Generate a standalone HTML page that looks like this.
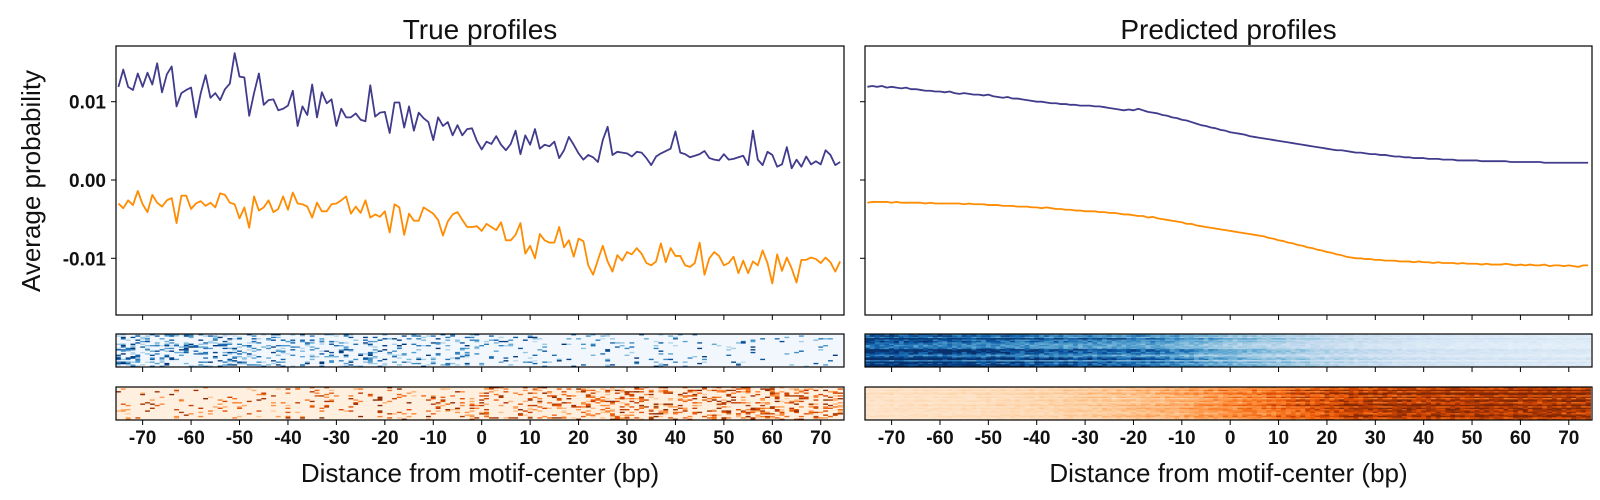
<!DOCTYPE html>
<html><head><meta charset="utf-8"><style>
html,body{margin:0;padding:0;background:#fff;}
svg{display:block;font-family:"Liberation Sans",sans-serif;}
</style></head><body>
<svg id="chart" width="1600" height="500" viewBox="0 0 1600 500"></svg>
<script>
// ---- data (units of 0.001 probability), positions -75..74 ----
const positions = []; for (let p = -75; p <= 74; p++) positions.push(p);
const xTicks = [-70,-60,-50,-40,-30,-20,-10,0,10,20,30,40,50,60,70];
const yTicks = [0.01, 0.00, -0.01];
const yTickLabels = ["0.01","0.00","-0.01"];
const trueBlue = [11.9,14.1,11.9,11.5,13.6,11.9,13.7,12.2,14.9,11.2,13.5,14.5,9.4,11.1,11.5,11.8,8.0,11.1,13.4,10.5,11.1,10.2,11.6,12.3,16.2,13.2,13.1,8.2,11.1,13.6,9.6,10.2,10.3,8.9,9.1,9.5,11.4,6.9,9.4,8.3,12.2,8.0,11.2,9.8,10.3,6.9,9.1,8.0,8.0,8.5,7.7,7.5,12.1,8.1,8.6,8.7,6.0,9.9,9.9,6.7,9.4,6.3,8.6,7.9,7.4,5.1,8.0,6.9,7.4,5.7,7.0,5.7,6.5,6.6,5.0,
3.9,4.9,4.6,5.6,4.5,3.8,4.6,6.3,3.3,5.7,4.5,6.5,4.0,4.5,4.3,4.9,2.8,3.8,5.5,4.5,3.4,2.6,3.2,2.9,2.3,5.1,6.8,3.2,3.6,3.5,3.4,3.0,3.6,3.5,2.8,1.9,3.0,3.4,3.7,4.0,6.2,3.5,3.3,2.9,3.1,3.3,3.7,2.8,2.6,2.5,3.3,2.6,2.7,2.9,3.1,1.9,6.3,2.6,1.9,3.6,3.2,1.7,2.0,4.2,1.5,2.6,1.7,3.0,2.0,2.4,2.0,3.8,3.2,1.9,2.3];
const trueOrange = [-3.0,-3.6,-2.6,-3.2,-1.4,-3.1,-4.1,-1.9,-2.9,-3.4,-2.6,-2.3,-5.5,-2.0,-2.0,-3.7,-3.0,-2.7,-3.3,-2.9,-3.5,-1.7,-1.9,-2.9,-3.1,-4.9,-3.5,-6.1,-2.1,-3.9,-3.5,-2.6,-4.1,-3.7,-2.1,-3.8,-1.6,-3.0,-3.1,-3.4,-4.8,-2.9,-4.0,-4.0,-3.1,-3.0,-2.6,-2.1,-4.3,-3.4,-4.2,-2.6,-4.8,-4.4,-4.7,-4.0,-6.7,-3.1,-3.5,-7.0,-4.3,-5.2,-5.2,-3.5,-3.9,-4.3,-5.1,-7.1,-5.3,-4.4,-4.1,-5.1,-6.0,-6.0,-5.9,
-6.5,-5.6,-6.0,-6.4,-5.4,-7.7,-7.7,-7.0,-5.5,-9.4,-8.4,-10.0,-6.9,-7.7,-8.0,-8.0,-6.0,-8.6,-7.7,-9.8,-7.5,-7.8,-10.9,-12.1,-10.2,-8.4,-10.4,-11.7,-9.6,-10.3,-9.2,-9.5,-8.7,-9.4,-10.6,-10.9,-10.4,-8.1,-10.5,-8.7,-9.7,-9.7,-10.9,-11.1,-10.6,-8.0,-12.1,-10.0,-9.2,-9.7,-10.9,-10.6,-9.8,-11.9,-10.3,-11.9,-10.4,-10.9,-9.0,-10.6,-13.2,-9.5,-11.6,-9.9,-11.3,-13.1,-10.2,-10.2,-9.9,-10.1,-10.6,-9.9,-10.5,-11.7,-10.4];
const predBlue = [11.9,12.0,11.9,12.0,11.8,11.9,11.8,11.7,11.8,11.6,11.6,11.5,11.4,11.4,11.3,11.3,11.2,11.3,11.1,11.0,11.1,11.0,10.9,10.9,10.8,10.9,
10.7,10.6,10.5,10.6,10.4,10.4,10.3,10.2,10.1,10.0,10.0,9.9,9.8,9.8,9.7,9.7,9.6,9.6,9.5,9.5,9.5,9.4,9.4,9.3,9.2,
9.1,9.0,8.9,9.0,8.9,9.1,8.9,8.7,8.6,8.5,8.3,8.2,8.0,7.9,7.7,7.6,7.4,7.2,7.0,6.9,6.7,6.6,6.4,6.3,6.1,
6.0,5.9,5.8,5.6,5.5,5.4,5.3,5.2,5.1,5.0,4.9,4.8,4.7,4.6,4.5,4.4,4.3,4.2,4.1,4.0,3.9,3.8,3.8,3.7,3.6,
3.5,3.5,3.4,3.3,3.3,3.2,3.2,3.1,3.0,3.0,2.9,2.9,2.8,2.8,2.8,2.7,2.7,2.7,2.6,2.6,2.6,2.5,2.5,2.5,2.5,
2.5,2.4,2.4,2.4,2.4,2.4,2.4,2.3,2.3,2.3,2.3,2.3,2.3,2.3,2.2,2.2,2.2,2.2,2.2,2.2,2.2,2.2,2.2,2.2];
const predOrange = [-2.9,-2.8,-2.8,-2.8,-2.8,-2.9,-2.8,-2.9,-2.9,-2.9,-2.9,-2.9,-3.0,-2.9,-3.0,-3.0,-3.0,-3.0,-3.0,-3.0,-3.1,-3.0,-3.1,-3.1,-3.1,-3.2,
-3.2,-3.2,-3.3,-3.3,-3.3,-3.4,-3.4,-3.4,-3.5,-3.5,-3.6,-3.5,-3.6,-3.7,-3.7,-3.8,-3.8,-3.9,-3.9,-4.0,-4.0,-4.0,-4.1,-4.1,-4.2,
-4.2,-4.3,-4.4,-4.4,-4.5,-4.6,-4.6,-4.8,-4.7,-4.9,-5.0,-5.1,-5.2,-5.3,-5.4,-5.6,-5.6,-5.8,-5.9,-6.0,-6.1,-6.2,-6.3,-6.4,-6.5,
-6.6,-6.7,-6.8,-6.9,-7.0,-7.1,-7.2,-7.4,-7.5,-7.7,-7.8,-8.0,-8.1,-8.3,-8.4,-8.6,-8.7,-8.9,-9.0,-9.2,-9.3,-9.5,-9.6,-9.8,-9.9,
-10.0,-10.0,-10.1,-10.1,-10.2,-10.2,-10.3,-10.3,-10.3,-10.4,-10.4,-10.4,-10.5,-10.4,-10.5,-10.5,-10.6,-10.5,-10.6,-10.6,-10.6,-10.7,-10.6,-10.7,-10.7,
-10.7,-10.8,-10.7,-10.8,-10.8,-10.8,-10.7,-10.8,-10.9,-10.8,-10.9,-10.8,-10.9,-10.9,-10.8,-11.0,-10.9,-10.9,-11.0,-10.9,-11.0,-11.1,-10.9,-10.9];
const heatRows = 24;

// ---- helpers ----
const NS = "http://www.w3.org/2000/svg";
const svg = document.getElementById("chart");
function mk(tag, attrs, parent) {
  const e = document.createElementNS(NS, tag);
  for (const k in attrs) e.setAttribute(k, attrs[k]);
  (parent || svg).appendChild(e);
  return e;
}
const XMIN = -75.5, XMAX = 74.8;
function xScale(panelLeft, panelRight) {
  return v => panelLeft + (v - XMIN) / (XMAX - XMIN) * (panelRight - panelLeft);
}
const Y0 = 180, YPX = 7830;
const yScale = v => Y0 - v * YPX;
const TOP = 46, BOT = 315;
const H1 = [334, 367], H2 = [387, 420];

function lerpColor(stops, t) {
  t = Math.max(0, Math.min(1, t));
  const f = t * (stops.length - 1), i = Math.min(stops.length - 2, Math.floor(f)), r = f - i;
  const a = stops[i], b = stops[i + 1];
  const c = [0,1,2].map(k => Math.round(a[k] + (b[k] - a[k]) * r));
  return "rgb(" + c.join(",") + ")";
}
const hex = h => [parseInt(h.slice(1,3),16), parseInt(h.slice(3,5),16), parseInt(h.slice(5,7),16)];
const BLUES = ["#f7fbff","#deebf7","#c6dbef","#9ecae1","#6baed6","#4292c6","#2171b5","#08519c","#08306b"].map(hex);
const ORANGES = ["#fff5eb","#fee6ce","#fdd0a2","#fdae6b","#fd8d3c","#f16913","#d94801","#a63603","#7f2704"].map(hex);
function hash(a, b, s) { // texture only
  let h = (a * 374761393 + b * 668265263 + s * 2147483647) | 0;
  h = (h ^ (h >>> 13)) * 1274126177 | 0;
  return ((h ^ (h >>> 16)) >>> 0) / 4294967296;
}

function panel(name, L, R, blue, orange, title, showYLabels, trueMode) {
  const g = mk("g", {});
  
  
  const xs = xScale(L, R);
  const t = mk("text", {x: (L + R) / 2, y: 39, "text-anchor": "middle", "font-size": 28, fill: "#111"}, g);
  t.textContent = title;
  
  
  const clipId = name + "-clip";
  const cp = mk("clipPath", {id: clipId}, g);
  mk("rect", {x: L, y: TOP, width: R - L, height: BOT - TOP}, cp);
  const series = [[blue, "#413b8c", "blue"], [orange, "#ff8c00", "orange"]];
  series.forEach(([arr, col, nm]) => {
    const d = arr.map((v, i) => (i ? "L" : "M") + xs(positions[i]).toFixed(2) + "," + yScale(v / 1000).toFixed(2)).join("");
    const p = mk("path", {d: d, fill: "none", stroke: col, "stroke-width": 1.8, "stroke-linejoin": "round", "clip-path": "url(#" + clipId + ")"}, g);
    
    
  });
  const fr = mk("rect", {x: L, y: TOP, width: R - L, height: BOT - TOP, fill: "none", stroke: "#000", "stroke-width": 1.2}, g);
  
  
  yTicks.forEach((v, i) => {
    const y = yScale(v);
    mk("line", {x1: L - 5, x2: L, y1: y, y2: y, stroke: "#000", "stroke-width": 1}, g);
    if (showYLabels) {
      const tl = mk("text", {x: L - 10, y: y + 7, "text-anchor": "end", "font-size": 19, "font-weight": "bold", fill: "#111"}, g);
      tl.textContent = yTickLabels[i];
      
      
    }
  });
  const cw = xs(1) - xs(0);
  [[H1, BLUES, blue, "blue"], [H2, ORANGES, orange, "orange"]].forEach(([H, cmap, arr, nm], hi) => {
    const hg = mk("g", {}, g);
    
    
    const rh = (H[1] - H[0]) / heatRows;
    for (let r = 0; r < heatRows; r++) {
      const rowW = 0.7 + 0.5 * hash(r, 7, hi + 3);
      for (let c = 0; c < arr.length; c++) {
        const a = Math.abs(arr[c]);
        let val;
        if (nm === "blue") {
          const n = Math.max(0, (a - 1.5) / 10);
          if (trueMode) { const p = 0.04 + 0.32 * n; val = hash(c, r, 11) < p ? 0.25 + 0.75 * hash(r, c, 5) : 0.03; }
          else val = (0.08 + n * 0.85) * rowW * (0.8 + 0.4 * hash(c, r, 1));
        } else {
          const n = Math.max(0, (a - 2.5) / 8.5);
          if (trueMode) { const p = 0.08 + 0.3 * n; val = hash(c, r, 13) < p ? 0.25 + 0.75 * hash(r, c, 9) : 0.05; }
          else val = (0.12 + n * 0.8) * rowW * (0.8 + 0.4 * hash(c, r, 2));
        }
        mk("rect", {x: (xs(positions[c]) - cw / 2).toFixed(2), y: (H[0] + r * rh).toFixed(2), width: (cw + 0.4).toFixed(2), height: (rh + 0.3).toFixed(2), fill: lerpColor(cmap, val)}, hg);
      }
    }
    mk("rect", {x: L, y: H[0], width: R - L, height: H[1] - H[0], fill: "none", stroke: "#000", "stroke-width": 1.2}, hg);
  });
  xTicks.forEach(v => {
    const x = xs(v);
    [BOT, H1[1], H2[1]].forEach(y => mk("line", {x1: x, x2: x, y1: y, y2: y + 5, stroke: "#000", "stroke-width": 1}, g));
    const tl = mk("text", {x: x, y: 444, "text-anchor": "middle", "font-size": 19, "font-weight": "bold", fill: "#111"}, g);
    tl.textContent = v;
    
    
  });
  const xl = mk("text", {x: (L + R) / 2, y: 482, "text-anchor": "middle", "font-size": 26, fill: "#111"}, g);
  xl.textContent = "Distance from motif-center (bp)";
  
  
}

panel("true-profiles", 116, 844, trueBlue, trueOrange, "True profiles", true, true);
panel("predicted-profiles", 865, 1592, predBlue, predOrange, "Predicted profiles", false, false);

const yl = mk("text", {x: 0, y: 0, "text-anchor": "middle", "font-size": 26, fill: "#111", transform: "translate(40,181) rotate(-90)"});
yl.textContent = "Average probability";


</script>
</body></html>
